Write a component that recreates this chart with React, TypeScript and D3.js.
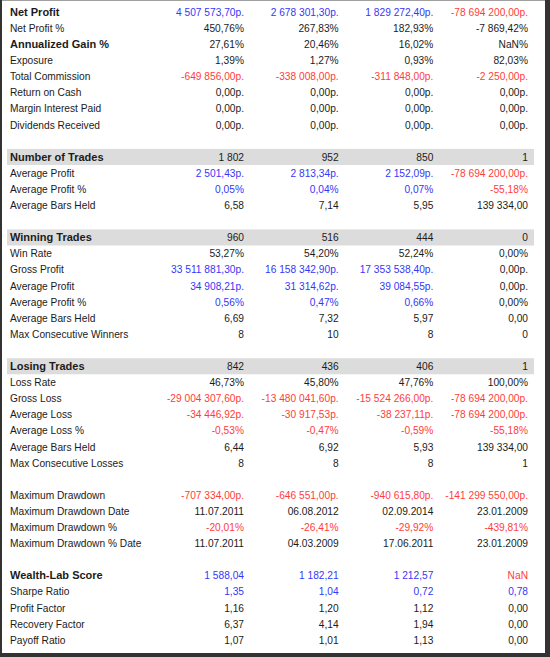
import React from "react";
import * as d3 from "d3";

const labels: string[] = [
  "Net Profit", "Net Profit %", "Annualized Gain %", "Exposure", "Total Commission", "Return on Cash", "Margin Interest Paid", "Dividends Received",
  "",
  "Number of Trades", "Average Profit", "Average Profit %", "Average Bars Held",
  "",
  "Winning Trades", "Win Rate", "Gross Profit", "Average Profit", "Average Profit %", "Average Bars Held", "Max Consecutive Winners",
  "",
  "Losing Trades", "Loss Rate", "Gross Loss", "Average Loss", "Average Loss %", "Average Bars Held", "Max Consecutive Losses",
  "",
  "Maximum Drawdown", "Maximum Drawdown Date", "Maximum Drawdown %", "Maximum Drawdown % Date",
  "",
  "Wealth-Lab Score", "Sharpe Ratio", "Profit Factor", "Recovery Factor", "Payoff Ratio",
];

// b = bold label, h = section header (bold with grey band), n = normal, "" = blank
const rowKinds: string[] = [
  "b", "n", "b", "n", "n", "n", "n", "n",
  "",
  "h", "n", "n", "n",
  "",
  "h", "n", "n", "n", "n", "n", "n",
  "",
  "h", "n", "n", "n", "n", "n", "n",
  "",
  "n", "n", "n", "n",
  "",
  "b", "n", "n", "n", "n",
];

// rows whose values are coloured by sign (blue positive, red negative)
const signedRows: number[] = [0, 4, 10, 11, 16, 17, 18, 24, 25, 26, 30, 32, 35, 36];

const col1: string[] = [
  "4 507 573,70р.", "450,76%", "27,61%", "1,39%", "-649 856,00р.", "0,00р.", "0,00р.", "0,00р.",
  "",
  "1 802", "2 501,43р.", "0,05%", "6,58",
  "",
  "960", "53,27%", "33 511 881,30р.", "34 908,21р.", "0,56%", "6,69", "8",
  "",
  "842", "46,73%", "-29 004 307,60р.", "-34 446,92р.", "-0,53%", "6,44", "8",
  "",
  "-707 334,00р.", "11.07.2011", "-20,01%", "11.07.2011",
  "",
  "1 588,04", "1,35", "1,16", "6,37", "1,07",
];
const col2: string[] = [
  "2 678 301,30р.", "267,83%", "20,46%", "1,27%", "-338 008,00р.", "0,00р.", "0,00р.", "0,00р.",
  "",
  "952", "2 813,34р.", "0,04%", "7,14",
  "",
  "516", "54,20%", "16 158 342,90р.", "31 314,62р.", "0,47%", "7,32", "10",
  "",
  "436", "45,80%", "-13 480 041,60р.", "-30 917,53р.", "-0,47%", "6,92", "8",
  "",
  "-646 551,00р.", "06.08.2012", "-26,41%", "04.03.2009",
  "",
  "1 182,21", "1,04", "1,20", "4,14", "1,01",
];
const col3: string[] = [
  "1 829 272,40р.", "182,93%", "16,02%", "0,93%", "-311 848,00р.", "0,00р.", "0,00р.", "0,00р.",
  "",
  "850", "2 152,09р.", "0,07%", "5,95",
  "",
  "444", "52,24%", "17 353 538,40р.", "39 084,55р.", "0,66%", "5,97", "8",
  "",
  "406", "47,76%", "-15 524 266,00р.", "-38 237,11р.", "-0,59%", "5,93", "8",
  "",
  "-940 615,80р.", "02.09.2014", "-29,92%", "17.06.2011",
  "",
  "1 212,57", "0,72", "1,12", "1,94", "1,13",
];
const col4: string[] = [
  "-78 694 200,00р.", "-7 869,42%", "NaN%", "82,03%", "-2 250,00р.", "0,00р.", "0,00р.", "0,00р.",
  "",
  "1", "-78 694 200,00р.", "-55,18%", "139 334,00",
  "",
  "0", "0,00%", "0,00р.", "0,00р.", "0,00%", "0,00", "0",
  "",
  "1", "100,00%", "-78 694 200,00р.", "-78 694 200,00р.", "-55,18%", "139 334,00", "1",
  "",
  "-141 299 550,00р.", "23.01.2009", "-439,81%", "23.01.2009",
  "",
  "NaN", "0,78", "0,00", "0,00", "0,00",
];

const columns = [col1, col2, col3, col4];

const W = 550;
const H = 657;
const BLUE = "#3636f8";
const RED = "#ff3c3c";
const TEXT = "#1b1b1b";
const FONT = "'Liberation Sans', Arial, sans-serif";

function valueColor(row: number, v: string): string {
  if (!signedRows.includes(row)) return TEXT;
  if (v.startsWith("-") || v.startsWith("NaN")) return RED;
  const num = parseFloat(v.replace(/\s/g, "").replace(",", ".").replace(/[^0-9.]/g, ""));
  if (!num) return TEXT;
  return BLUE;
}

export default function App() {
  const y = d3
    .scaleBand<number>()
    .domain(d3.range(labels.length))
    .range([4, 4 + labels.length * 16.1])
    .padding(0);
  const x = d3.scaleLinear().domain([0, 3]).range([244, 528]);

  return (
    <svg
      width={W}
      height={H}
      style={{ position: "absolute", left: 0, top: 0, display: "block" }}
      fontFamily={FONT}
      fontSize={10.2}
    >
      <rect x={0} y={0} width={W} height={H} fill="#ffffff" />
      {labels.map((lab, i) =>
        rowKinds[i] === "h" ? (
          <rect key={"bg" + i} x={7} y={y(i)!} width={527} height={y.bandwidth()} fill="#dcdcdc" />
        ) : null
      )}
      {labels.map((lab, i) => {
        if (!lab) return null;
        const cy = y(i)! + y.bandwidth() / 2 + 3.8;
        const bold = rowKinds[i] === "b" || rowKinds[i] === "h";
        return (
          <g key={"r" + i}>
            <text
              x={10}
              y={cy}
              fill={TEXT}
              fontWeight={bold ? "bold" : "normal"}
              fontSize={bold ? 11 : 10.2}
            >
              {lab}
            </text>
            {columns.map((col, c) => (
              <text key={c} x={x(c)} y={cy} textAnchor="end" fill={valueColor(i, col[i])}>
                {col[i]}
              </text>
            ))}
          </g>
        );
      })}
      {/* window frame */}
      <rect x={0} y={0} width={W} height={1} fill="#a0a0a0" />
      <rect x={0} y={0} width={2} height={H} fill="#333333" />
      <rect x={545} y={0} width={5} height={H} fill="#333333" />
      <rect x={0} y={653} width={W} height={4} fill="#333333" />
    </svg>
  );
}
